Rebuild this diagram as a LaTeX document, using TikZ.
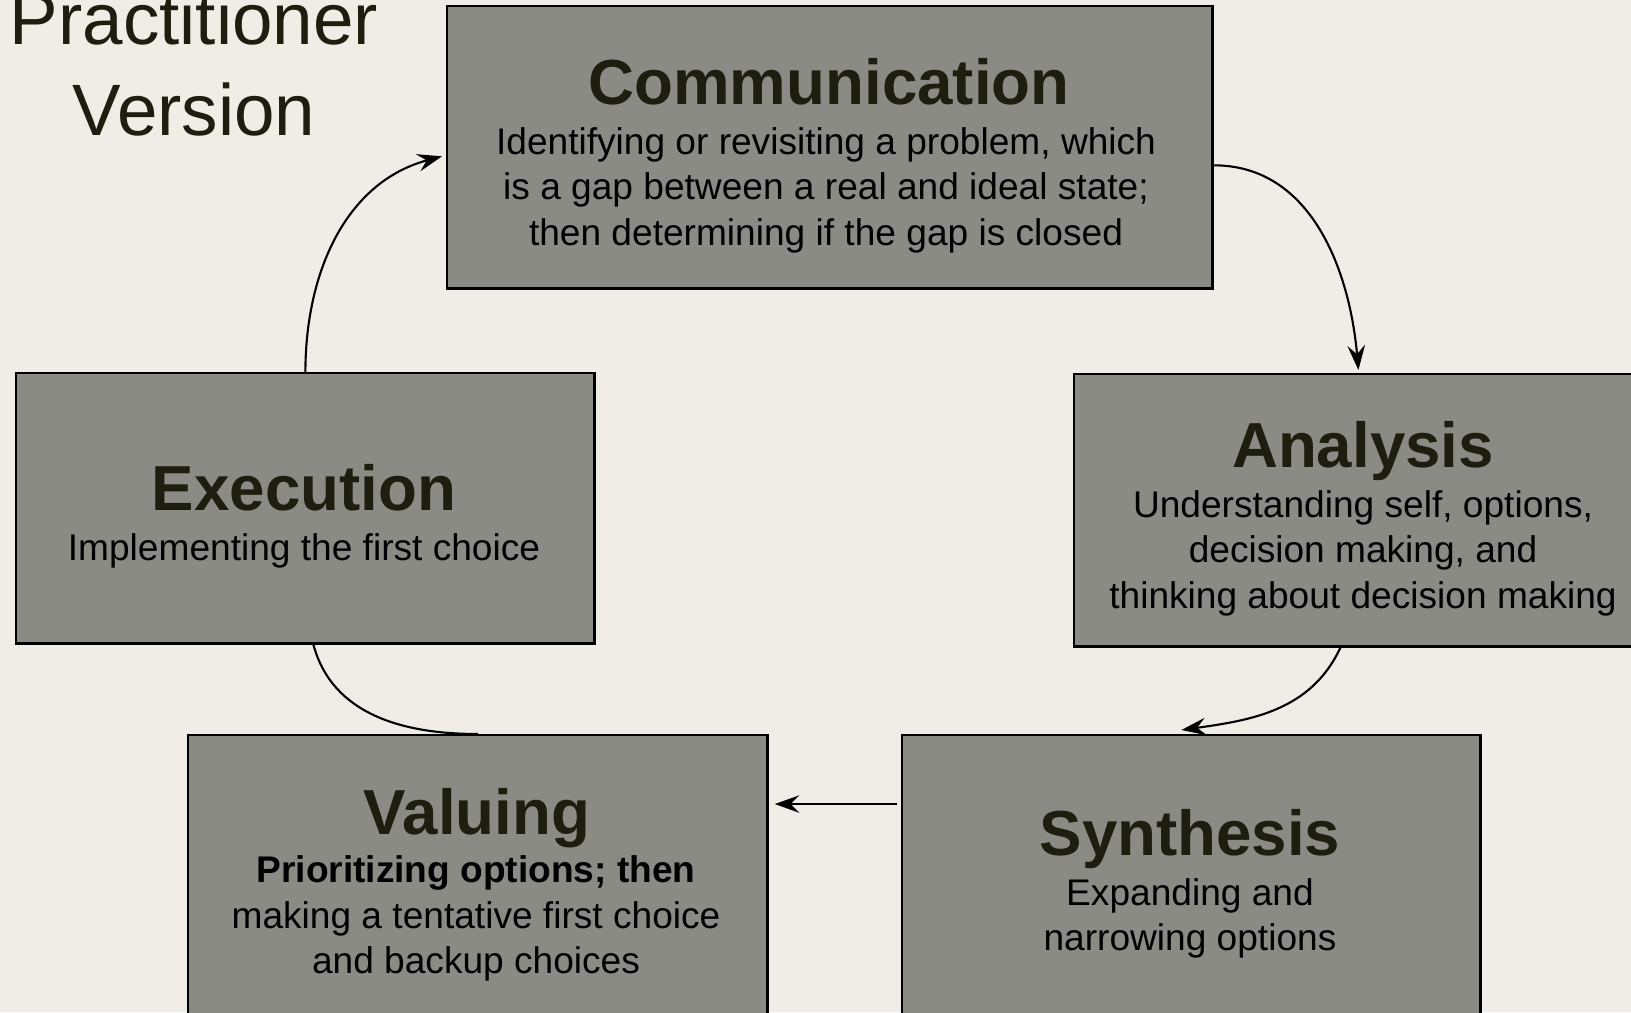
\documentclass[tikz,border=0pt]{standalone}
\usepackage{fontspec}
\setmainfont{Liberation Sans}
\usetikzlibrary{arrows,arrows.meta}
\definecolor{bgcream}{RGB}{239,237,229}
\definecolor{boxgray}{RGB}{138,139,132}
\definecolor{inkdark}{RGB}{30,30,16}
\tikzstyle{arrow} = [semithick,-{Stealth[length=7pt,width=5pt,inset=2.5pt]}]

\begin{document}
\begin{tikzpicture}
        [
            x=0.01cm, y=-0.01cm,
            box/.style={rectangle,draw=black,line width=0.7pt,fill=boxgray,anchor=north west,inner sep=0pt},
            head/.style={anchor=base,inner sep=0pt,text=inkdark,font=\fontsize{18.1}{22}\selectfont\bfseries},
            desc/.style={anchor=base,inner sep=0pt,align=center,text=black,font=\fontsize{10.55}{12.8}\selectfont},
        ]
    \useasboundingbox (0,0) rectangle (1631,1012);
    \clip (0,0) rectangle (1631,1012);
    \fill[bgcream] (0,0) rectangle (1631,1012);

    % base of a multi-line node = baseline of its last line
    \node[anchor=base,inner sep=0pt,align=center,text=inkdark,font=\fontsize{20.7}{25.6}\selectfont] (title) at (194,135) {Practitioner\\Version};

    % the five boxes
    \node[box,minimum width=7.65cm,minimum height=2.82cm] (comm) at (446,5) {};
    \node[box,minimum width=5.78cm,minimum height=2.70cm] (exec) at (15,372) {};
    \node[box,minimum width=5.80cm,minimum height=2.72cm] (anal) at (1073,373) {};
    \node[box,minimum width=5.79cm,minimum height=2.96cm] (valu) at (187,734) {};
    \node[box,minimum width=5.78cm,minimum height=2.96cm] (synt) at (901,734) {};

    \node[head] (comm-head) at (829,104) {Communication};
    \node[desc] (comm-desc) at (826,245) {Identifying or revisiting a problem, which\\is a gap between a real and ideal state;\\then determining if the gap is closed};
    \node[head] (exec-head) at (304,510) {Execution};
    \node[desc] (exec-desc) at (304,560) {Implementing the first choice};
    \node[head] (anal-head) at (1363,467) {Analysis};
    \node[desc] (anal-desc) at (1363,608) {Understanding self, options,\\decision making, and\\thinking about decision making};
    \node[head] (valu-head) at (477,834) {Valuing};
    \node[desc] (valu-desc) at (476,973) {\textbf{Prioritizing options; then}\\making a tentative first choice\\and backup choices};
    \node[head] (synt-head) at (1190,855) {Synthesis};
    \node[desc] (synt-desc) at (1190,950) {Expanding and\\narrowing options};

    % the cycle
    \draw[arrow] ([yshift=-0.18cm]comm.east) to[out=0,in=95] ([xshift=-0.06cm,yshift=0.03cm]anal.north);
    \draw[arrow] ([xshift=-0.24cm]anal.south) to[out=-115,in=8] ([xshift=-0.1cm,yshift=0.04cm]synt.north);
    \draw[arrow,shorten <=1.1pt,shorten >=1.7pt] ([yshift=-0.70cm]synt.north west) -- ([yshift=-0.70cm]valu.north east);
    \draw[semithick] ([xshift=0.08cm]exec.south) to[out=-75,in=180] (valu.north);
    \draw[arrow] (exec.north) to[out=90,in=195] ([xshift=-0.04cm,yshift=-0.09cm]comm.west);
\end{tikzpicture}
\end{document}
